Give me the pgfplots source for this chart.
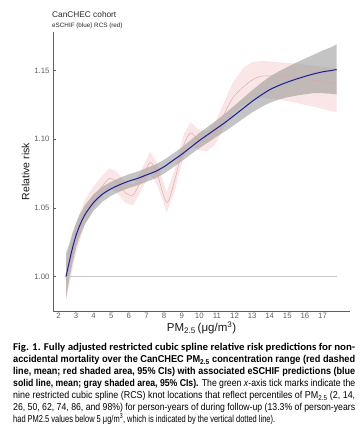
\documentclass[border=0pt]{standalone}
\usepackage{fontspec}
\setmainfont{Liberation Sans}
\newfontfamily\capfont{Carlito}
\usepackage{graphicx}
\usepackage{pgfplots}
\usepackage{pgfplotstable}
\pgfplotsset{compat=1.18}
\usepgfplotslibrary{fillbetween}

\definecolor{navyline}{HTML}{1F1F6E}
\definecolor{bandgray}{HTML}{8A8A8A}
\definecolor{pinkband}{HTML}{F9E2E2}
\definecolor{redline}{HTML}{D8A8A8}
\definecolor{axisgray}{HTML}{606060}
\definecolor{refgray}{HTML}{C8C8C8}

\newcommand{\capline}[1]{\resizebox{342pt}{\height}{#1}}

% eSCHIF: x, mean, lower, upper
\pgfplotstableread{
x     m       lo      hi
2.43  1.0000  0.9840  1.0170
2.6   1.0100  0.9970  1.0230
2.8   1.0210  1.0100  1.0320
3.0   1.0300  1.0210  1.0390
3.2   1.0370  1.0290  1.0450
3.5   1.0450  1.0380  1.0520
4.0   1.0540  1.0480  1.0600
4.5   1.0600  1.0545  1.0655
5.0   1.0640  1.0590  1.0690
5.5   1.0670  1.0620  1.0720
6.0   1.0695  1.0645  1.0745
6.5   1.0715  1.0665  1.0765
7.0   1.0740  1.0690  1.0790
7.5   1.0765  1.0715  1.0815
8.0   1.0800  1.0750  1.0850
8.5   1.0845  1.0795  1.0895
9.0   1.0890  1.0840  1.0940
9.5   1.0940  1.0888  1.0992
10.0  1.0990  1.0935  1.1045
10.5  1.1035  1.0977  1.1093
11.0  1.1080  1.1020  1.1140
11.5  1.1125  1.1060  1.1190
12.0  1.1175  1.1105  1.1245
12.5  1.1225  1.1150  1.1300
13.0  1.1275  1.1195  1.1355
13.5  1.1320  1.1232  1.1408
14.0  1.1360  1.1265  1.1455
14.5  1.1390  1.1288  1.1492
15.0  1.1415  1.1305  1.1525
15.5  1.1437  1.1317  1.1557
16.0  1.1457  1.1327  1.1587
16.5  1.1475  1.1335  1.1615
17.0  1.1490  1.1335  1.1645
17.5  1.1500  1.1330  1.1670
17.8  1.1507  1.1327  1.1690
}\eschif

% RCS: x, mean, lower, upper
\pgfplotstableread{
x     m       lo      hi
2.43  0.9980  0.9830  1.0130
3.0   1.0280  1.0170  1.0390
3.5   1.0470  1.0380  1.0560
4.0   1.0580  1.0500  1.0660
4.5   1.0660  1.0590  1.0735
4.9   1.0715  1.0645  1.0790
5.3   1.0690  1.0615  1.0765
5.8   1.0610  1.0535  1.0685
6.25  1.0596  1.0520  1.0670
6.7   1.0700  1.0625  1.0775
7.2   1.0830  1.0750  1.0910
7.6   1.0750  1.0670  1.0830
8.15  1.0540  1.0465  1.0615
8.6   1.0700  1.0620  1.0780
9.1   1.0950  1.0870  1.1030
9.5   1.1045  1.0965  1.1125
9.9   1.1000  1.0925  1.1075
10.4  1.0985  1.0910  1.1060
10.9  1.1040  1.0960  1.1120
11.4  1.1180  1.1090  1.1270
11.9  1.1300  1.1190  1.1410
12.5  1.1380  1.1250  1.1520
13.0  1.1430  1.1285  1.1560
13.5  1.1458  1.1300  1.1570
14.5  1.1460  1.1290  1.1560
15.5  1.1450  1.1265  1.1550
16.5  1.1430  1.1235  1.1535
17.5  1.1410  1.1205  1.1520
17.8  1.1400  1.1195  1.1515
}\rcs

\begin{document}
\begin{tikzpicture}
\node[anchor=base west, inner sep=0, text=black!85] at (52pt,-17pt) {\fontsize{8.3}{9}\selectfont CanCHEC cohort};
\node[anchor=base west, inner sep=0, text=black!85] at (52pt,-27pt) {\fontsize{6.3}{7}\selectfont eSCHIF (blue) RCS (red)};
\begin{axis}[
  at={(53pt,-311pt)}, anchor=south west,
  scale only axis, width=297pt, height=279pt,
  xmin=1.69, xmax=18.56, ymin=0.975, ymax=1.178,
  axis x line*=bottom, axis y line*=left,
  axis line style={draw=axisgray, line width=0.7pt},
  xtick={2,...,17}, ytick={1,1.05,1.10,1.15},
  x tick style={draw=none},
  y tick style={draw=axisgray, line width=0.5pt},
  major tick length=2.5pt,
  tick label style={font=\fontsize{7.8}{8}\selectfont, text=axisgray},
  xticklabel style={yshift=1pt},
  /pgf/number format/assume math mode=true,
  yticklabel={\pgfmathprintnumber[fixed,fixed zerofill,precision=2]{\tick}},
  xlabel={PM\textsubscript{2.5}\,(μg/m\textsuperscript{3})},
  xlabel style={font=\fontsize{11.5}{12}\selectfont, text=black!90, yshift=4pt},
  ylabel={Relative risk},
  ylabel style={font=\fontsize{10.5}{11}\selectfont, text=black!90, yshift=-2pt},
]
\addplot[refgray, line width=1.3pt] coordinates {(2.43,1) (17.8,1)};
% RCS band and line
\addplot[name path=rlo, draw=none, forget plot] table[x=x,y=lo] {\rcs};
\addplot[name path=rhi, draw=none, forget plot] table[x=x,y=hi] {\rcs};
\addplot[pinkband, fill opacity=0.85, draw=none] fill between[of=rlo and rhi];
\addplot[redline, line width=0.45pt, smooth] table[x=x,y=m] {\rcs};
% eSCHIF band and line
\addplot[name path=elo, draw=none, forget plot] table[x=x,y=lo] {\eschif};
\addplot[name path=ehi, draw=none, forget plot] table[x=x,y=hi] {\eschif};
\addplot[bandgray, fill opacity=0.5, draw=none] fill between[of=elo and ehi];
\addplot[blue!40!white, line width=1.8pt, opacity=0.6, smooth] table[x=x,y=m] {\eschif};
\addplot[navyline, line width=0.9pt, smooth] table[x=x,y=m] {\eschif};
\end{axis}
\node[anchor=north west, inner sep=0, align=left] at (13pt,-343pt) {\capfont\fontsize{10.4}{11.2}\selectfont
\capline{\bfseries Fig. 1. Fully adjusted restricted cubic spline relative risk predictions for non-}\\
\capline{\bfseries accidental mortality over the CanCHEC PM\textsubscript{2.5} concentration range (red dashed}\\
\capline{\bfseries line, mean; red shaded area, 95\% CIs) with associated eSCHIF predictions (blue}\\
\capline{{\bfseries solid line, mean; gray shaded area, 95\% CIs).} The green \textit{x}-axis tick marks indicate the}\\
\capline{nine restricted cubic spline (RCS) knot locations that reflect percentiles of PM\textsubscript{2.5} (2, 14,}\\
\capline{26, 50, 62, 74, 86, and 98\%) for person-years of during follow-up (13.3\% of person-years}\\
\resizebox{262pt}{\height}{had PM2.5 values below 5 μg/m\textsuperscript{3}, which is indicated by the vertical dotted line).}};
\path (0pt,-445pt) rectangle (364pt,0pt);
\end{tikzpicture}
\end{document}
